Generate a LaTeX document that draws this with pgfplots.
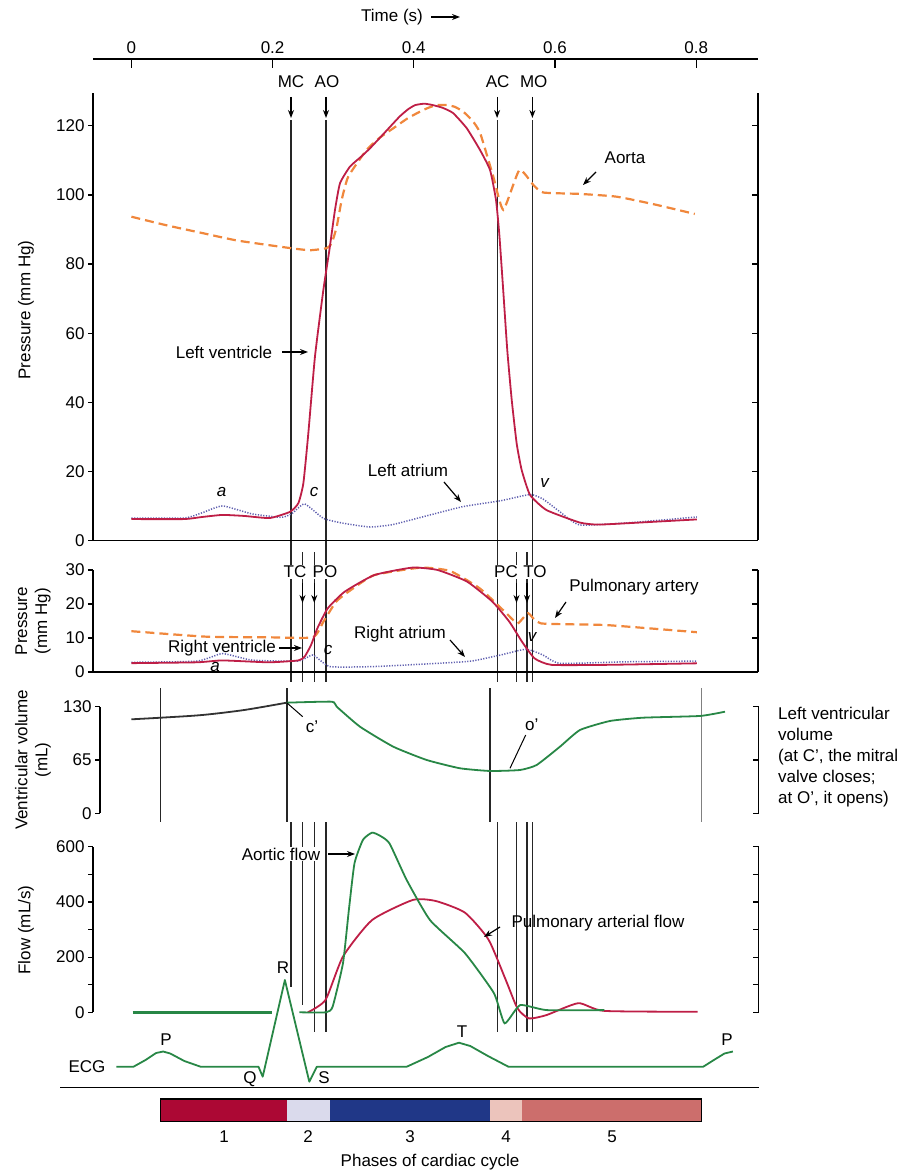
\documentclass[border=0pt]{standalone}
\usepackage{fontspec}
\setmainfont{Liberation Sans}
\usepackage{pgfplots}
\pgfplotsset{compat=1.18}
\usetikzlibrary{arrows.meta}

\definecolor{lvred}{RGB}{190,30,70}
\definecolor{aorta}{RGB}{240,135,60}
\definecolor{atrium}{RGB}{95,95,175}
\definecolor{vgreen}{RGB}{40,135,70}
\definecolor{vblack}{RGB}{50,50,50}
\definecolor{ph1}{RGB}{172,8,52}
\definecolor{ph2}{RGB}{218,218,236}
\definecolor{ph3}{RGB}{32,55,135}
\definecolor{ph4}{RGB}{236,196,188}
\definecolor{ph5}{RGB}{204,110,108}

\pgfplotsset{
  panel/.style={scale only axis, anchor=south west, width=665pt,
    xmin=-0.05439, xmax=0.88754, clip=false,
    axis line style={-, line width=1.4pt},
    tick style={black, line width=1.2pt},
    major tick length=5pt, minor tick length=5pt, tick align=outside,
    xtick=\empty, ytick pos=left,
    tick label style={font=\fontsize{17}{20}\selectfont},
    /pgf/number format/assume math mode=true},
  ventline/.style={lvred, line width=1.8pt, smooth, tension=0.3},
  artline/.style={aorta, line width=2.2pt, dash pattern=on 9pt off 5pt, smooth, tension=0.3},
  atrline/.style={atrium, line width=1.5pt, dash pattern=on 1.2pt off 1.5pt, smooth, tension=0.3},
}
\tikzset{
  arr/.style={-{Stealth[length=8pt,width=6pt]}, line width=1.2pt},
  vl/.style={black!85, line width=1.1pt},
  lab/.style={fill=white, inner sep=1pt},
}

\begin{document}
\begin{tikzpicture}[font=\fontsize{17}{20}\selectfont]
\useasboundingbox (0,0) rectangle (910pt,1171pt);

% overlay axis: x = time (s), y = pixel row from the top
\begin{axis}[scale only axis, anchor=south west, at={(93pt,0pt)},
  width=665pt, height=1171pt, xmin=-0.05439, xmax=0.88754,
  ymin=0, ymax=1171, y dir=reverse, hide axis, clip=false]
% valve events, pressure panels
\draw[vl] (axis cs:0.226,120) -- (axis cs:0.226,682);
\draw[vl] (axis cs:0.2756,120) -- (axis cs:0.2756,682);
\draw[vl] (axis cs:0.518,120) -- (axis cs:0.518,682);
\draw[vl] (axis cs:0.568,120) -- (axis cs:0.568,682);
\draw[vl] (axis cs:0.2424,552) -- (axis cs:0.2424,682);
\draw[vl] (axis cs:0.259,552) -- (axis cs:0.259,682);
\draw[vl] (axis cs:0.5455,552) -- (axis cs:0.5455,682);
\draw[vl] (axis cs:0.5603,552) -- (axis cs:0.5603,682);
% volume panel phase lines
\draw[vl] (axis cs:0.0412,688) -- (axis cs:0.0412,822);
\draw[vl] (axis cs:0.2204,688) -- (axis cs:0.2204,822);
\draw[vl] (axis cs:0.508,688) -- (axis cs:0.508,822);
\draw[vl, gray] (axis cs:0.8078,688) -- (axis cs:0.8078,822);
% flow panel
\draw[vl] (axis cs:0.226,822) -- (axis cs:0.226,987);
\draw[vl] (axis cs:0.2424,822) -- (axis cs:0.2424,1005);
\draw[vl] (axis cs:0.259,822) -- (axis cs:0.259,1032);
\draw[vl] (axis cs:0.2756,822) -- (axis cs:0.2756,1032);
\draw[vl] (axis cs:0.518,822) -- (axis cs:0.518,1032);
\draw[vl] (axis cs:0.5455,822) -- (axis cs:0.5455,1032);
\draw[vl] (axis cs:0.5603,822) -- (axis cs:0.5603,1032);
\draw[vl] (axis cs:0.568,822) -- (axis cs:0.568,1032);
% ECG
\addplot[vgreen, line width=1.8pt, line join=round] coordinates {
(-0.0214,1066.7) (0.003,1066.7) (0.02,1060) (0.035,1053) (0.045,1051.5)
(0.055,1053.5) (0.075,1061) (0.098,1066.7) (0.180,1066.7) (0.186,1076.7)
(0.2174,980) (0.252,1081.7) (0.2627,1066.7) (0.390,1066.7) (0.42,1057)
(0.445,1047) (0.464,1042.7) (0.48,1046) (0.505,1056) (0.534,1066.7)
(0.810,1066.7) (0.825,1060) (0.84,1053.5) (0.852,1051.5)
};
\addplot[black, line width=1.4pt] coordinates {(-0.1011,1087.3) (0.8885,1087.3)};
% phases of the cardiac cycle
\addplot[fill=ph1, draw=none] coordinates {(0.0412,1099) (0.2204,1099) (0.2204,1121.7) (0.0412,1121.7)};
\addplot[fill=ph2, draw=none] coordinates {(0.2204,1099) (0.2807,1099) (0.2807,1121.7) (0.2204,1121.7)};
\addplot[fill=ph3, draw=none] coordinates {(0.2807,1099) (0.508,1099) (0.508,1121.7) (0.2807,1121.7)};
\addplot[fill=ph4, draw=none] coordinates {(0.508,1099) (0.5533,1099) (0.5533,1121.7) (0.508,1121.7)};
\addplot[fill=ph5, draw=none] coordinates {(0.5533,1099) (0.8078,1099) (0.8078,1121.7) (0.5533,1121.7)};
\addplot[black, line width=1.2pt] coordinates {(0.0412,1099) (0.8078,1099) (0.8078,1121.7) (0.0412,1121.7) (0.0412,1099)};
\end{axis}

% time axis
\begin{axis}[scale only axis, anchor=north west, at={(93pt,1112pt)},
  width=665pt, height=10pt, xmin=-0.05439, xmax=0.88754, ymin=0, ymax=1,
  axis x line*=top, axis y line=none, axis line style={-, line width=1.4pt},
  tick style={black, line width=1.2pt}, tick align=inside, major tick length=9pt,
  xtick={0,0.2,0.4,0.6,0.8}, xticklabels={0,0.2,0.4,0.6,0.8},
  xticklabel style={font=\fontsize{17}{20}\selectfont, yshift=2pt}]
\end{axis}

% left ventricle, aorta, left atrium
\begin{axis}[panel, at={(93pt,630.5pt)}, height=447.5pt, ymin=0, ymax=129.5,
  ytick={0,20,...,120}, axis x line*=bottom, axis y line*=left]
\addplot[artline] coordinates {
(0,93.7) (0.05,91.2) (0.102,88.9) (0.15,86.8) (0.2256,84.6) (0.253,84)
(0.2766,84.6) (0.2837,86) (0.2908,90.8) (0.2979,98.6) (0.3072,105.3)
(0.333,113) (0.352,116.6) (0.371,119.3) (0.39,122) (0.404,123.6) (0.418,125)
(0.432,126) (0.4466,126) (0.458,125.5) (0.470,124.1) (0.483,121.5)
(0.494,117.9) (0.5126,105.3) (0.5268,95.7) (0.5495,107.2)
(0.5693,102.9) (0.5834,100.7) (0.635,100.3) (0.687,99.5) (0.74,97.3) (0.798,94.5)
};
\addplot[atrline] coordinates {
(0,6.5) (0.075,6.5) (0.10,8.0) (0.129,10.0) (0.1707,7.7) (0.2125,6.7)
(0.2275,7.8) (0.2453,10.6) (0.272,6.4) (0.30,5.0) (0.338,3.9) (0.37,4.6)
(0.41,6.7) (0.4696,9.8) (0.523,11.5) (0.5646,13.3) (0.583,12.0) (0.607,8.3)
(0.635,4.5) (0.7026,5.1) (0.801,6.8)
};
\addplot[ventline] coordinates {
(0,6.2) (0.075,6.2) (0.10,6.8) (0.129,7.4) (0.16,7.1) (0.196,6.5)
(0.2247,8.3) (0.2365,10.8) (0.2436,16.6) (0.2506,31) (0.260,53.2)
(0.2719,72.5) (0.2804,84) (0.2884,95.7) (0.2955,103.4) (0.3096,108.2)
(0.325,111) (0.338,113.5) (0.36,118.3) (0.38,122.7) (0.392,124.8)
(0.402,126) (0.415,126.4) (0.427,126) (0.441,125.2) (0.4556,123.7)
(0.475,119.3) (0.4938,113) (0.508,107.2) (0.5164,98.6) (0.521,88.9) (0.526,74.4)
(0.5324,55.1) (0.5387,40.7) (0.5457,28.1) (0.5528,20.4) (0.5646,13.2)
(0.588,8.8) (0.635,5.2) (0.66,4.6) (0.7026,5.0) (0.801,6.1)
};
\draw[line width=1.4pt] (axis cs:0.88754,0) -- (axis cs:0.88754,129.5);
\pgfplotsinvokeforeach{20,40,60,80,100,120}{
  \draw[line width=1.2pt] (axis cs:0.88754,#1) -- ++(-6pt,0pt);}
\end{axis}

% right ventricle, pulmonary artery, right atrium
\begin{axis}[panel, at={(93pt,499pt)}, height=102pt, ymin=0, ymax=30,
  ytick={0,10,20,30}, axis x line*=bottom, axis y line*=left]
\addplot[artline] coordinates {
(0,12) (0.105,10.4) (0.1946,10.2) (0.257,10.2) (0.272,14.8) (0.29,20.7)
(0.31,24) (0.344,28.5) (0.41,30.7) (0.4515,29.7) (0.4934,24.6) (0.529,17.7)
(0.547,14.3) (0.562,17.3) (0.58,14.3) (0.6727,13.8) (0.801,11.7)
};
\addplot[atrline] coordinates {
(0,2.85) (0.093,3.2) (0.129,5.4) (0.1707,3.5) (0.2364,3.2) (0.257,5)
(0.2813,1.6) (0.344,1.6) (0.4337,2.55) (0.4814,3.2) (0.523,5) (0.559,6.7)
(0.583,5) (0.607,2.55) (0.70,3.0) (0.801,3.2)
};
\addplot[ventline] coordinates {
(0,2.6) (0.093,2.85) (0.129,3.4) (0.1946,2.85) (0.2364,3.4) (0.2453,4.5)
(0.2544,7.9) (0.2633,12.8) (0.278,18.7) (0.302,23.6) (0.344,28.5)
(0.3977,30.7) (0.4337,30) (0.4754,26.6) (0.5113,20.7) (0.5353,14.8)
(0.5533,8.9) (0.5711,4.0) (0.595,2.1) (0.6727,2.1) (0.801,2.55)
};
\draw[line width=1.4pt] (axis cs:0.88754,0) -- (axis cs:0.88754,30);
\pgfplotsinvokeforeach{10,20,30}{
  \draw[line width=1.2pt] (axis cs:0.88754,#1) -- ++(-6pt,0pt);}
\end{axis}

% ventricular volume
\begin{axis}[panel, at={(100pt,357.7pt)}, width=658pt, xmin=-0.04447,
  height=106.6pt, ymin=0, ymax=130, ytick={0,65,130},
  axis x line=none, axis y line*=left]
\addplot[vblack, line width=1.8pt, smooth] coordinates {
(0,114.6) (0.05,117) (0.102,120) (0.16,126) (0.22,134.9)
};
\addplot[vgreen, line width=1.8pt, smooth, tension=0.3] coordinates {
(0.22,134.9) (0.2837,136.1) (0.2908,130) (0.3238,105.6) (0.371,81.2)
(0.4183,65) (0.4654,54.9) (0.508,51.6) (0.5504,52.8) (0.574,58.9)
(0.607,81.2) (0.6354,101.6) (0.678,112.6) (0.725,116.6) (0.8054,118.7)
(0.8408,123.9)
};
\draw[line width=1.4pt] (axis cs:0.8885,0) -- (axis cs:0.8885,130);
\pgfplotsinvokeforeach{0,65,130}{
  \draw[line width=1.2pt] (axis cs:0.8885,#1) -- ++(-6pt,0pt);}
\end{axis}

% aortic and pulmonary flow
\begin{axis}[panel, at={(93pt,158.7pt)}, height=165.6pt, ymin=0, ymax=600,
  ytick={0,200,400,600}, minor ytick={100,300,500},
  axis x line=none, axis y line*=left]
\addplot[vgreen, line width=3.2pt] coordinates {(0.0017,0) (0.199,0)};
\addplot[lvred, line width=1.8pt, smooth, tension=0.35] coordinates {
(0.25,0) (0.275,45) (0.2997,202) (0.3408,334) (0.3986,407) (0.4315,403)
(0.4725,361) (0.5057,264) (0.530,119) (0.5467,15) (0.563,-22) (0.588,-10)
(0.633,33) (0.670,5) (0.802,2)
};
\addplot[vgreen, line width=1.8pt, smooth, tension=0.3] coordinates {
(0.238,0) (0.2755,0) (0.285,20) (0.2997,178) (0.308,370) (0.316,540)
(0.328,625) (0.3408,651) (0.352,640) (0.3656,612) (0.390,479) (0.423,334)
(0.4725,214) (0.5136,69) (0.5287,-40) (0.5506,26) (0.588,8) (0.670,8)
};
\draw[line width=1.4pt] (axis cs:0.8885,0) -- (axis cs:0.8885,600);
\pgfplotsinvokeforeach{0,100,200,300,400,500,600}{
  \draw[line width=1.2pt] (axis cs:0.8885,#1) -- ++(-6pt,0pt);}
\end{axis}

% labels, placed by pixel position (x right, y down)
\begin{scope}[x=1pt, y=-1pt, yshift=1171pt]
\node at (392,17) {Time (s)};
\draw[arr] (431,17) -- (460,17);
\node at (291,82) {MC};
\node at (327,82) {AO};
\node at (497.7,82) {AC};
\node at (533.7,82) {MO};
\draw[arr] (291,97) -- (291,118);
\draw[arr] (326,97) -- (326,118);
\draw[arr] (497.1,97) -- (497.1,118);
\draw[arr] (532.4,97) -- (532.4,118);
\node at (625,158) {Aorta};
\draw[arr] (596,172) -- (583,185);
\node at (224,352) {Left ventricle};
\draw[arr] (282,352) -- (308,352);
\node at (221.5,492) {\textit{a}};
\node at (314,492) {\textit{c}};
\node at (545,483) {\textit{v}};
\node at (408,470) {Left atrium};
\draw[arr] (444,482) -- (461,502);
\node[lab] at (295,572) {TC};
\node[lab] at (325,572) {PO};
\node[lab] at (506,572) {PC};
\node[lab] at (535,572) {TO};
\draw[arr] (302.5,583) -- (302.5,603);
\draw[arr] (314.3,583) -- (314.3,603);
\draw[arr] (516.5,583) -- (516.5,603);
\draw[arr] (527,583) -- (527,603);
\node at (634,587) {Pulmonary artery};
\draw[arr] (566,602) -- (555,618);
\node at (400,634) {Right atrium};
\draw[arr] (450,640) -- (465,657);
\node at (222,648) {Right ventricle};
\draw[arr] (279,648) -- (302,648);
\node at (215,667) {\textit{a}};
\node at (328,650) {\textit{c}};
\node at (532.5,637) {\textit{v}};
\node at (312,727) {c'};
\draw[line width=1pt] (286.7,702.7) -- (302.7,716.7);
\node at (531.7,725) {o'};
\draw[line width=1pt] (525.7,735) -- (510,768.3);
\node[anchor=north west, align=left, inner sep=0pt, font=\fontsize{17}{21}\selectfont]
  at (778,707) {Left ventricular\\volume\\(at C', the mitral\\valve closes;\\at O', it opens)};
\node[lab] at (281,854) {Aortic flow};
\draw[arr] (328,854) -- (355,854);
\node[anchor=west] at (508,923) {Pulmonary arterial flow};
\draw[arr] (500,927) -- (484,937);
\node at (166,1040) {P};
\node at (250,1079) {Q};
\node at (283,968) {R};
\node at (324,1078) {S};
\node at (462,1032) {T};
\node at (727,1040) {P};
\node at (87,1067) {ECG};
\node at (224,1137) {1};
\node at (308,1137) {2};
\node at (410,1137) {3};
\node at (506,1137) {4};
\node at (612,1137) {5};
\node at (430,1162) {Phases of cardiac cycle};
\node[rotate=90] at (26,310) {Pressure (mm Hg)};
\node[rotate=90, align=center] at (33,621) {Pressure\\(mm Hg)};
\node[rotate=90, align=center] at (33,760) {Ventricular volume\\(mL)};
\node[rotate=90] at (26,930) {Flow (mL/s)};
\end{scope}
\end{tikzpicture}
\end{document}
